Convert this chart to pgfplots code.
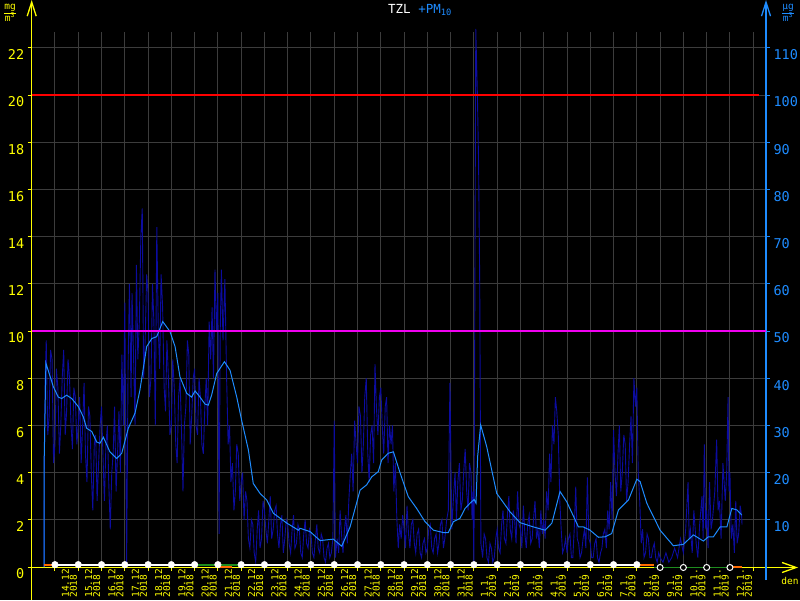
\documentclass[border=0pt]{standalone}
\usepackage{fontspec}
\setmainfont{DejaVu Sans Mono}
\usepackage{pgfplots}
\pgfplotsset{compat=1.18}
\usetikzlibrary{arrows.meta}

\definecolor{axyel}{HTML}{FFFF00}
\definecolor{pmblue}{HTML}{1E8CFF}
\definecolor{rawblue}{HTML}{0C0CA0}
\definecolor{gridgray}{HTML}{3C3C3C}
\definecolor{limred}{HTML}{FF0000}
\definecolor{limmag}{HTML}{F000F0}
\definecolor{okgreen}{HTML}{1E8C1E}
\definecolor{warnorange}{HTML}{FF6A00}

\begin{document}
\begin{tikzpicture}
\clip (0pt,0pt) rectangle (800pt,600pt);
\fill[black] (0pt,0pt) rectangle (800pt,600pt);

% left axis: mg/m3, grid and date ticks
\begin{axis}[
  at={(31.7pt,33pt)}, anchor=south west,
  scale only axis, width=734.3pt, height=535pt,
  xmin=-1, xmax=30.55, ymin=0, ymax=22.67,
  axis line style={draw=none},
  tick pos=left, tick align=outside, major tick length=4pt,
  tick style={axyel, line width=1pt},
  xtick={0,...,30}, ytick={0,2,...,22},
  xticklabels={{14.12.\\2018},{15.12.\\2018},{16.12.\\2018},{17.12.\\2018},{18.12.\\2018},{19.12.\\2018},{20.12.\\2018},{21.12.\\2018},{22.12.\\2018},{23.12.\\2018},{24.12.\\2018},{25.12.\\2018},{26.12.\\2018},{27.12.\\2018},{28.12.\\2018},{29.12.\\2018},{30.12.\\2018},{31.12.\\2018},{1.1.\\2019},{2.1.\\2019},{3.1.\\2019},{4.1.\\2019},{5.1.\\2019},{6.1.\\2019},{7.1.\\2019},{8.1.\\2019},{9.1.\\2019},{10.1.\\2019},{11.1.\\2019},{12.1.\\2019},{}},
  xticklabel style={font=\fontsize{9.5}{8}\selectfont, text=axyel, align=left,
    xshift=14.5pt, yshift=-30pt, rotate=90, anchor=west},
  yticklabel style={font=\fontsize{13.5}{13}\selectfont, text=axyel, yshift=-7pt},
  grid=major, grid style={gridgray, line width=1pt},
  /pgf/number format/assume math mode=true,
]
\addplot[draw=none] coordinates {(0,0)};
\end{axis}

% axis lines with open arrow heads
\draw[axyel, line width=1.3pt, -{Straight Barb[length=14pt, width=9pt]}] (31.7pt,0pt) -- (31.7pt,600pt);
\draw[axyel, line width=1.3pt, -{Straight Barb[length=14pt, width=10pt]}] (31.7pt,32.5pt) -- (798pt,32.5pt);
\draw[pmblue, line width=1.3pt, -{Straight Barb[length=14pt, width=9pt]}] (766pt,20pt) -- (766pt,600pt);

% right axis: PM10 in ug/m3
\begin{axis}[
  at={(31.7pt,33pt)}, anchor=south west,
  scale only axis, width=734.3pt, height=535pt,
  xmin=-1, xmax=30.55, ymin=0, ymax=113.35,
  axis line style={draw=none}, clip=false,
  xtick=\empty, ytick={10,20,...,110},
  tick pos=right, tick align=outside, major tick length=4pt,
  tick style={pmblue, line width=1pt},
  yticklabel style={font=\fontsize{13.5}{13}\selectfont, text=pmblue, yshift=-7pt},
  /pgf/number format/assume math mode=true,
]
% raw values
\addplot[rawblue, line width=0.9pt] coordinates {
(-0.47,0) (-0.46,20) (-0.42,40) (-0.375,48) (-0.31,28) (-0.25,32) (-0.19,46) (-0.125,44) (-0.06,22)
(0,26) (0.06,42) (0.125,38) (0.19,24) (0.25,30) (0.31,40) (0.375,46) (0.44,28) (0.5,33) (0.56,44) (0.625,40) (0.69,30) (0.75,25) (0.81,38) (0.875,36) (0.94,26)
(1,30) (1.06,36) (1.125,22) (1.19,30) (1.25,39) (1.31,24) (1.375,18) (1.44,34) (1.5,32) (1.56,20) (1.625,12) (1.69,26) (1.75,28) (1.81,14) (1.875,22) (1.94,30)
(2,34) (2.06,24) (2.125,14) (2.19,26) (2.25,30) (2.31,18) (2.375,8) (2.44,20) (2.5,24) (2.56,34) (2.625,16) (2.69,24) (2.75,33) (2.81,20) (2.875,45) (2.94,30)
(3,56) (3.04,28) (3.08,1) (3.14,42) (3.2,60) (3.27,36) (3.31,58) (3.375,45) (3.44,30) (3.5,64) (3.56,44) (3.625,52) (3.69,70) (3.75,76) (3.81,40) (3.875,48) (3.94,62)
(4,58) (4.06,36) (4.125,40) (4.19,60) (4.25,52) (4.31,30) (4.375,72) (4.44,50) (4.5,42) (4.56,62) (4.625,55) (4.69,38) (4.75,33) (4.81,48) (4.875,40) (4.94,28)
(5,30) (5.06,44) (5.125,38) (5.19,26) (5.25,22) (5.31,36) (5.375,40) (5.44,28) (5.5,16) (5.56,30) (5.625,34) (5.69,48) (5.75,45) (5.81,26) (5.875,32) (5.94,40)
(6,42) (6.06,30) (6.125,28) (6.19,40) (6.25,36) (6.31,26) (6.375,24) (6.44,34) (6.5,40) (6.56,30) (6.625,52) (6.69,44) (6.75,55) (6.81,40) (6.875,63) (6.94,50)
(7,58) (7.05,7) (7.1,50) (7.15,63) (7.22,48) (7.3,61) (7.375,40) (7.44,26) (7.5,30) (7.56,18) (7.625,22) (7.69,12) (7.75,16) (7.81,26) (7.875,24) (7.94,14)
(8,18) (8.06,20) (8.125,10) (8.19,16) (8.25,14) (8.31,6) (8.375,4) (8.44,10) (8.5,9) (8.56,3) (8.625,1) (8.69,8) (8.75,12) (8.81,4) (8.875,6) (8.94,14)
(9,12) (9.06,8) (9.125,5) (9.19,10) (9.25,15) (9.31,6) (9.375,8) (9.44,12) (9.5,13) (9.56,7) (9.625,4) (9.69,9) (9.75,11) (9.81,3) (9.875,6) (9.94,10)
(10,9) (10.06,5) (10.125,3) (10.19,8) (10.25,11) (10.31,4) (10.375,5) (10.44,9) (10.5,8) (10.56,3) (10.625,2) (10.69,7) (10.75,10) (10.81,5) (10.875,4) (10.94,8)
(11,7) (11.06,3) (11.125,2) (11.19,6) (11.25,9) (11.31,4) (11.375,3) (11.44,7) (11.5,6) (11.56,2) (11.625,1) (11.69,4) (11.75,5) (11.81,2) (11.875,3) (11.94,6)
(12,31) (12.05,2) (12.125,6) (12.19,3) (12.25,12) (12.31,7) (12.375,3) (12.44,8) (12.5,11) (12.56,5) (12.625,14) (12.69,20) (12.75,24) (12.81,16) (12.875,31) (12.94,26)
(13,22) (13.06,34) (13.125,32) (13.19,20) (13.25,26) (13.31,36) (13.375,40) (13.44,24) (13.5,18) (13.56,28) (13.625,30) (13.69,22) (13.75,43) (13.81,34) (13.875,28) (13.94,36)
(14,38) (14.06,30) (14.125,24) (14.19,34) (14.25,36) (14.31,22) (14.375,30) (14.44,26) (14.5,30) (14.56,16) (14.625,22) (14.69,10) (14.75,4) (14.81,9) (14.875,6) (14.94,11)
(15,8) (15.06,4) (15.125,13) (15.19,7) (15.25,4) (15.31,9) (15.375,10) (15.44,5) (15.5,3) (15.56,7) (15.625,8) (15.69,3) (15.75,2) (15.81,5) (15.875,6) (15.94,3)
(16,4) (16.06,8) (16.125,9) (16.19,4) (16.25,3) (16.31,6) (16.375,7) (16.44,3) (16.5,5) (16.56,9) (16.625,10) (16.69,4) (16.75,6) (16.83,10) (16.9,12) (16.97,39)
(17.05,8) (17.125,15) (17.19,20) (17.25,10) (17.31,18) (17.375,22) (17.44,12) (17.5,14) (17.56,20) (17.625,25) (17.69,16) (17.75,12) (17.81,22) (17.875,20) (17.92,10)
(17.96,16) (18,0) (18.08,114) (18.15,100) (18.2,86) (18.25,60) (18.3,5) (18.375,2) (18.44,7) (18.5,6) (18.56,2) (18.625,1) (18.69,5) (18.75,4) (18.81,1) (18.875,2) (18.94,6)
(19,8) (19.06,4) (19.125,3) (19.19,9) (19.25,12) (19.31,6) (19.375,5) (19.44,11) (19.5,15) (19.56,8) (19.625,6) (19.69,12) (19.75,10) (19.81,5) (19.875,16) (19.94,9)
(20,8) (20.06,4) (20.125,13) (20.19,7) (20.25,4) (20.31,9) (20.375,11) (20.44,5) (20.5,6) (20.56,10) (20.625,14) (20.69,6) (20.75,8) (20.81,4) (20.875,12) (20.94,7)
(21,10) (21.06,6) (21.125,16) (21.19,12) (21.25,24) (21.31,18) (21.375,30) (21.44,26) (21.5,36) (21.56,33) (21.625,28) (21.69,14) (21.75,8) (21.81,3) (21.875,4) (21.94,6)
(22,3) (22.06,6) (22.125,7) (22.19,2) (22.25,2) (22.31,8) (22.375,17) (22.44,6) (22.5,5) (22.56,2) (22.625,3) (22.69,6) (22.75,8) (22.81,4) (22.875,19) (22.94,6)
(23,5) (23.06,2) (23.125,2) (23.19,5) (23.25,6) (23.31,2) (23.375,1) (23.44,3) (23.5,4) (23.56,7) (23.625,8) (23.69,4) (23.75,12) (23.81,8) (23.875,18) (23.94,10)
(24,29) (24.06,20) (24.125,15) (24.19,24) (24.25,30) (24.31,16) (24.375,20) (24.44,28) (24.5,26) (24.56,14) (24.625,18) (24.69,26) (24.75,32) (24.81,22) (24.875,40) (24.94,34)
(25,38) (25.06,20) (25.125,14) (25.19,5) (25.25,8) (25.31,2) (25.375,3) (25.44,7) (25.5,6) (25.56,2) (25.625,2) (25.69,4) (25.75,5) (25.81,2) (25.875,1) (25.94,3)
(26,2) (26.125,1) (26.25,3) (26.375,1) (26.5,2) (26.625,4) (26.75,2) (26.875,6)
(27,3) (27.1,8) (27.2,18) (27.25,6) (27.3,8) (27.38,3) (27.45,12) (27.55,5) (27.62,2) (27.7,9) (27.8,15) (27.85,6) (27.9,26)
(27.96,8) (28,12) (28.06,4) (28.125,18) (28.19,8) (28.25,10) (28.35,16) (28.43,27) (28.49,12) (28.55,14) (28.62,6) (28.7,22) (28.8,14) (28.86,20) (28.92,36) (28.96,16)
(29,20) (29.06,6) (29.125,9) (29.19,3) (29.25,14) (29.31,5) (29.375,7) (29.44,13) (29.5,11) (29.52,9)
};
% smoothed values
\addplot[pmblue, line width=1pt] coordinates {
(-0.47,0) (-0.47,21) (-0.39,43.2) (-0.07,38.2) (0.14,36) (0.29,35.7) (0.50,36.4) (0.72,35.7)
(1.00,34) (1.22,31.8) (1.36,29.4) (1.58,28.7) (1.79,26.5) (1.93,26.2) (2.08,27.5) (2.36,24.4)
(2.65,23) (2.87,24.1) (3.15,29.4) (3.44,32.6) (3.65,37.5) (3.94,46.7) (4.16,48.4) (4.37,48.8)
(4.63,52) (4.94,49.9) (5.16,46.7) (5.37,40.3) (5.66,36.8) (5.87,36) (6.02,37.3) (6.23,36)
(6.45,34.5) (6.59,34.3) (6.73,36.4) (6.95,41) (7.28,43.5) (7.52,41.7) (7.81,36) (8.02,31.1)
(8.31,24.8) (8.52,17.7) (8.81,15.6) (9.10,14.2) (9.38,11.4) (9.96,9.3) (10.46,7.8) (10.53,8.2)
(10.96,7.5) (11.39,5.6) (11.96,5.9) (12.32,4.4) (12.68,8.5) (13.11,16.3) (13.39,17.4) (13.61,19.1)
(13.89,20.2) (14.04,22.7) (14.32,24.1) (14.54,24.4) (14.83,19.9) (15.18,14.9) (15.54,12.4) (15.90,9.6)
(16.26,7.8) (16.69,7.3) (16.90,7.3) (17.12,9.6) (17.40,10.3) (17.62,12.4) (17.83,13.5) (18.01,14.3)
(18.09,13.5) (18.16,23.4) (18.29,30.1) (18.55,25.5) (18.98,15.6) (19.55,11.7) (19.98,9.4) (20.55,8.5)
(21.06,7.8) (21.35,9.3) (21.70,16) (21.99,13.8) (22.49,8.5) (22.70,8.5) (22.99,7.8) (23.35,6.3)
(23.64,6.4) (23.92,7.1) (24.21,12.1) (24.64,14.2) (25.00,18.6) (25.14,18.1) (25.43,13.5) (26.00,7.8)
(26.57,4.5) (27.00,4.8) (27.43,6.8) (27.86,5.5) (28.07,6.4) (28.29,6.4) (28.58,8.5) (28.87,8.5)
(29.08,12.4) (29.30,12.1) (29.51,11)
};
% limits
\addplot[limmag, line width=2pt] coordinates {(-1,50) (30.55,50)};
\addplot[limred, line width=2pt] coordinates {(-1,100) (30.25,100)};
% data availability row
\addplot[white, line width=2pt] coordinates {(-0.13,0.5) (25,0.5)};
\addplot[warnorange, line width=2pt] coordinates {(-0.47,0.5) (-0.13,0.5)};
\addplot[okgreen, line width=2pt] coordinates {(6.1,0.5) (7.9,0.5)};
\addplot[warnorange, line width=2pt] coordinates {(7.1,-0.1) (7.6,-0.1)};
\addplot[warnorange, line width=2pt] coordinates {(25,0.5) (25.75,0.5)};
\addplot[okgreen, line width=1.5pt] coordinates {(25.75,-0.1) (29,-0.1)};
\addplot[warnorange, line width=2pt] coordinates {(29,-0.1) (29.5,-0.1)};
\addplot[only marks, mark=*, mark size=3.3pt, mark options={draw=white, fill=white}] coordinates {
(0,0.5) (1,0.5) (2,0.5) (3,0.5) (4,0.5) (5,0.5) (6,0.5) (7,0.5) (8,0.5)
(9,0.5) (10,0.5) (11,0.5) (12,0.5) (13,0.5) (14,0.5) (15,0.5) (16,0.5)
(17,0.5) (18,0.5) (19,0.5) (20,0.5) (21,0.5) (22,0.5) (23,0.5) (24,0.5) (25,0.5)
};
\addplot[only marks, mark=*, mark size=3pt, mark options={draw=white, fill=black, line width=1pt}] coordinates {
(26,-0.1) (27,-0.1) (28,-0.1) (29,-0.1)
};
\end{axis}

% title and units
\node[text=white, font=\fontsize{12.5}{13}\selectfont] at (420pt,590pt)
  {TZL \textcolor{pmblue}{+PM\textsubscript{10}}};
\node[text=axyel, font=\fontsize{9.5}{9}\selectfont, inner sep=0pt] at (10pt,586pt)
  {\begin{tabular}{@{}c@{}}mg\\\hline m\textsuperscript{3}\end{tabular}};
\node[text=pmblue, font=\fontsize{9.5}{9}\selectfont, inner sep=0pt] at (788pt,586pt)
  {\begin{tabular}{@{}c@{}}µg\\\hline m\textsuperscript{3}\end{tabular}};
\node[text=axyel, font=\fontsize{9.5}{9}\selectfont] at (790pt,19pt) {den};
\end{tikzpicture}
\end{document}
